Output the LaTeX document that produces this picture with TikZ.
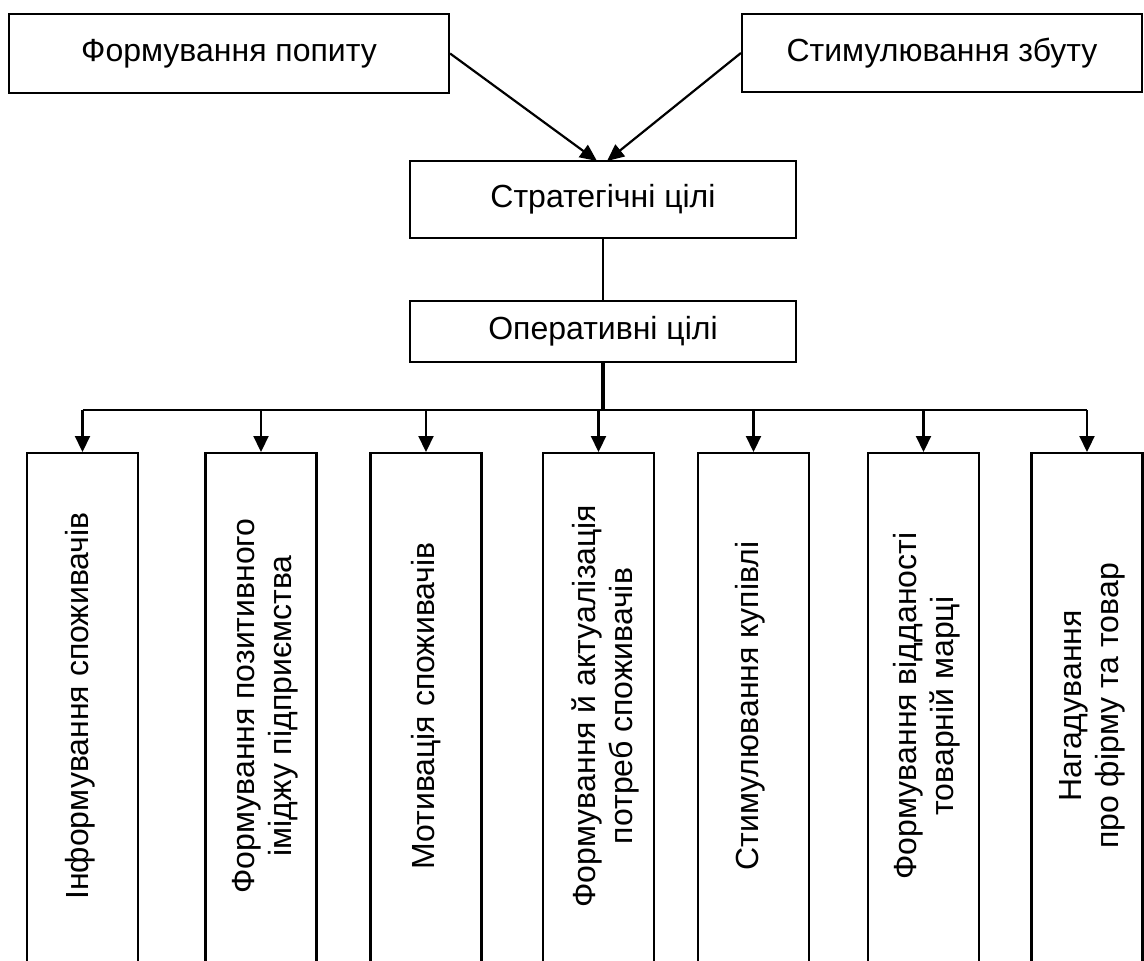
\documentclass[tikz,border=0pt]{standalone}
\usepackage{fontspec}
\setmainfont{Liberation Sans}
\usetikzlibrary{arrows.meta}
\begin{document}
\begin{tikzpicture}[x=1pt,y=-1pt,
  box/.style={draw,line width=2.2pt,inner sep=0pt,font=\fontsize{32}{38}\selectfont},
  vbox/.style={draw,line width=2.2pt,inner sep=0pt,minimum width=111pt,minimum height=560pt,anchor=north},
  vtext/.style={rotate=90,inner sep=0pt,align=center,font=\fontsize{32}{37}\selectfont},
  arr/.style={line width=2.2pt,-{Triangle[length=16pt,width=15pt]}},
  darr/.style={line width=2.2pt,-{Triangle[length=17pt,width=15pt]}}]
\clip (0,0) rectangle (1144,961);
\fill[white] (0,0) rectangle (1144,961);
% top boxes
\node[box,minimum width=440pt,minimum height=79pt] (fp) at (229,53.5) {Формування попиту};
\node[box,minimum width=400pt,minimum height=78pt] (sz) at (942,53) {Стимулювання збуту};
\node[box,minimum width=386pt,minimum height=77pt] (st) at (603,199.5) {Стратегічні цілі};
\node[box,minimum width=386pt,minimum height=61pt] (op) at (603,331.5) {Оперативні цілі};
\coordinate (tl) at (597,161);
\coordinate (tr) at (607,161);
\draw[darr] (fp.east) -- (tl);
\draw[darr] (sz.west) -- (tr);
\draw[line width=1.5pt] (st.south) -- (op.north);
% bottom boxes
\node[vbox] (b1) at (82.5,452) {};
\node[vbox] (b2) at (261,452) {};
\node[vbox] (b3) at (426,452) {};
\node[vbox] (b4) at (598.5,452) {};
\node[vbox] (b5) at (753.5,452) {};
\node[vbox] (b6) at (923.5,452) {};
\node[vbox] (b7) at (1087,452) {};
\coordinate (bar) at (603,410);
\draw[line width=3.5pt] (op.south) -- (bar);
\draw[line width=2.2pt] (bar -| b1.north) -- (bar -| b7.north);
\foreach \b in {b1,b2,b3,b4,b5,b6,b7}{
  \draw[arr] (bar -| \b.north) -- (\b.north);
}
% texts
\node[vtext] (t1) at (80,706) {Інформування споживачів};
\node[vtext] (t2) at (265,706) {Формування позитивного\\іміджу підприємства};
\node[vtext] (t3) at (426,706) {Мотивація споживачів};
\node[vtext] (t4) at (605,706) {Формування й актуалізація\\потреб споживачів};
\node[vtext] (t5) at (750,706) {Стимулювання купівлі};
\node[vtext] (t6) at (927,706) {Формування відданості\\товарній марці};
\node[vtext] (t7) at (1092,706) {Нагадування\\про фірму та товар};
\end{tikzpicture}
\end{document}
